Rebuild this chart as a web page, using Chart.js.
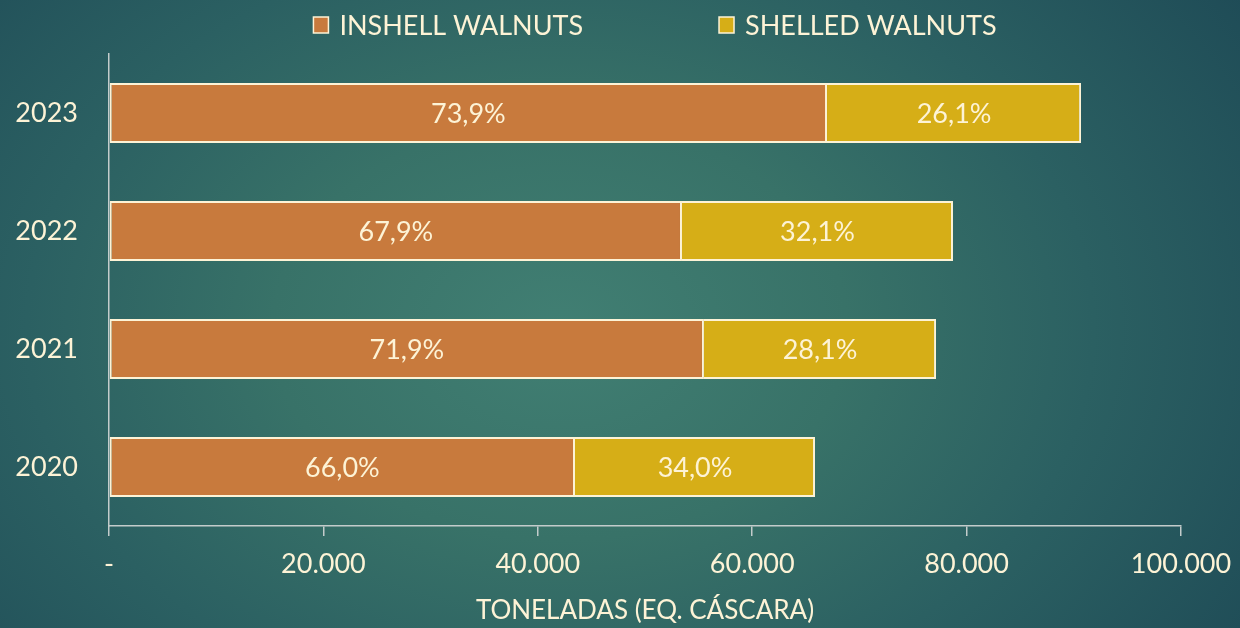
<!DOCTYPE html>
<html>
<head>
<meta charset="utf-8">
<script src="https://cdn.jsdelivr.net/npm/chart.js@4.4.1/dist/chart.umd.min.js"></script>
<style>
  html, body { margin: 0; padding: 0; }
  body {
    width: 1240px; height: 628px; overflow: hidden;
    background: radial-gradient(ellipse 820px 600px at 560px 330px, #417f73 0%, #387268 35%, #2b6062 65%, #1f4c57 100%);
  }
  #wrap { position: relative; width: 1240px; height: 628px; }
</style>
</head>
<body>
<div id="wrap"><canvas id="c" width="1240" height="628"></canvas></div>
<script>
const years = ['2023', '2022', '2021', '2020'];
const inshell = [66980, 53450, 55500, 43470];
const shelled = [23700, 25280, 21650, 22390];
const seriesNames = ['INSHELL WALNUTS', 'SHELLED WALNUTS'];
const xTicks = [0, 20000, 40000, 60000, 80000, 100000];
const xTickLabels = ['-', '20.000', '40.000', '60.000', '80.000', '100.000'];
const axisTitle = 'TONELADAS (EQ. CÁSCARA)';

const CREAM = '#fdf3d6';
const FONT = 'Lato, "Open Sans", sans-serif';

const legendPlugin = {
  id: 'customLegend',
  afterDraw(chart) {
    const ctx = chart.ctx;
    const ds = chart.data.datasets;
    ctx.save();
    ctx.font = '27px ' + FONT;
    const box = 15, gapBoxText = 11, gapItems = 136;
    const widths = ds.map(d => box + gapBoxText + ctx.measureText(d.label).width);
    const total = widths.reduce((a, b) => a + b, 0) + gapItems * (ds.length - 1);
    let x = 655 - total / 2;
    const y = 25;
    ds.forEach((d, i) => {
      ctx.fillStyle = d.backgroundColor;
      ctx.fillRect(x, y - 8, box, 16);
      ctx.strokeStyle = CREAM;
      ctx.lineWidth = 1.5;
      ctx.strokeRect(x, y - 8, box, 16);
      ctx.fillStyle = CREAM;
      ctx.textBaseline = 'middle';
      ctx.textAlign = 'left';
      ctx.fillText(d.label, x + box + gapBoxText, y + 1);
      x += widths[i] + gapItems;
    });
    ctx.restore();
  }
};

const pctPlugin = {
  id: 'pctLabels',
  afterDatasetsDraw(chart) {
    const ctx = chart.ctx;
    ctx.save();
    ctx.font = '27px ' + FONT;
    ctx.fillStyle = CREAM;
    ctx.textAlign = 'center';
    ctx.textBaseline = 'middle';
    chart.data.datasets.forEach((d, di) => {
      const meta = chart.getDatasetMeta(di);
      meta.data.forEach((bar, i) => {
        const tot = inshell[i] + shelled[i];
        const pct = (d.data[i] / tot * 100).toFixed(1).replace('.', ',') + '%';
        const p = bar.getProps(['x', 'y', 'base'], true);
        ctx.fillText(pct, (p.x + p.base) / 2, p.y + 1);
      });
    });
    ctx.restore();
  }
};

new Chart(document.getElementById('c'), {
  type: 'bar',
  data: {
    labels: years,
    datasets: [
      { label: seriesNames[0], data: inshell, backgroundColor: '#c87a3d',
        borderColor: CREAM, borderWidth: 2, borderSkipped: false },
      { label: seriesNames[1], data: shelled, backgroundColor: '#d6ae17',
        borderColor: CREAM, borderWidth: 2, borderSkipped: 'start' }
    ]
  },
  options: {
    indexAxis: 'y',
    responsive: false,
    animation: false,
    devicePixelRatio: 1,
    layout: { padding: { top: 54, right: 59, left: 0, bottom: 0 } },
    datasets: { bar: { barPercentage: 0.51, categoryPercentage: 1.0 } },
    plugins: { legend: { display: false }, tooltip: { enabled: false } },
    scales: {
      x: {
        stacked: true,
        min: 0, max: 100000,
        afterBuildTicks(scale) { scale.ticks = xTicks.map(v => ({ value: v })); },
        afterFit(scale) { scale.height = 102; scale.paddingRight = 0; scale.paddingLeft = 0; },
        ticks: {
          color: CREAM,
          font: { family: FONT, size: 27 },
          padding: 12,
          callback: (v, i) => xTickLabels[i]
        },
        grid: { drawOnChartArea: false, drawTicks: true, tickLength: 10, color: '#c3cccb', lineWidth: 1.5 },
        border: { display: true, color: '#c3cccb', width: 1.5 },
        title: {
          display: true, text: axisTitle, color: CREAM,
          font: { family: FONT, size: 26 }, padding: { top: 0, bottom: 2 }
        }
      },
      y: {
        stacked: true,
        afterFit(scale) { scale.width = 109; },
        ticks: { color: CREAM, font: { family: FONT, size: 27 }, padding: 31 },
        grid: { display: false, drawTicks: false },
        border: { display: true, color: '#c3cccb', width: 1.5 }
      }
    }
  },
  plugins: [legendPlugin, pctPlugin]
});
</script>
</body>
</html>
